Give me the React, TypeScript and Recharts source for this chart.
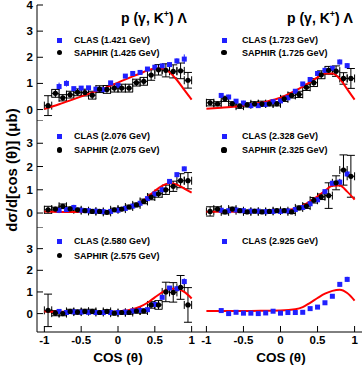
import { ComposedChart, ErrorBar, Line, Scatter, XAxis, YAxis } from 'recharts';

const FONT = '"Liberation Sans", Arial, Helvetica, sans-serif';
const BLUE = '#2020ff';
const RED = '#ff0000';

// bin centres
const clasCos = [-0.8, -0.7, -0.6, -0.5, -0.4, -0.3, -0.2, -0.1, 0, 0.1, 0.2, 0.3, 0.4, 0.5, 0.6, 0.7, 0.8, 0.9];
const saphirCos = [-0.95, -0.85, -0.75, -0.65, -0.55, -0.45, -0.35, -0.25, -0.15, -0.05, 0.05, 0.15, 0.25, 0.35, 0.45, 0.55, 0.65, 0.75, 0.85, 0.95];
const curveCos = [-1, -0.8, -0.6, -0.4, -0.2, 0, 0.2, 0.3, 0.4, 0.5, 0.6, 0.7, 0.8, 0.9, 1];

// 1.421 / 1.425 GeV
const clas1421 = [0.88, 1.0, 0.8, 0.82, 0.83, 0.78, 0.76, 1.02, 0.93, 1.28, 1.38, 1.42, 1.55, 1.62, 1.67, 1.72, 1.86, 1.93];
const clas1421Err = [0.15, 0.12, 0.07, 0.06, 0.06, 0.06, 0.06, 0.06, 0.06, 0.06, 0.06, 0.06, 0.07, 0.07, 0.08, 0.08, 0.1, 0.18];
const saphir1425 = [0.15, 0.62, 0.45, 0.57, 0.66, 0.65, 0.55, 0.78, 0.77, 0.82, 0.82, 0.82, 1.03, 1.08, 1.32, 1.52, 1.5, 1.46, 1.48, 1.12];
const saphir1425Err = [0.38, 0.15, 0.12, 0.13, 0.13, 0.13, 0.15, 0.13, 0.15, 0.15, 0.15, 0.15, 0.13, 0.15, 0.2, 0.2, 0.25, 0.25, 0.3, 0.3];
const model1421 = [0.02, 0.2, 0.4, 0.6, 0.8, 1.03, 1.27, 1.38, 1.5, 1.57, 1.57, 1.43, 1.13, 0.75, 0.38];

// 1.723 / 1.725 GeV
const clas1723 = [0.54, 0.48, 0.32, 0.25, 0.15, 0.15, 0.2, 0.3, 0.33, 0.45, 0.7, 0.98, 1.15, 1.38, 1.5, 1.58, 1.82, 1.68];
const clas1723Err = [0.06, 0.05, 0.05, 0.05, 0.04, 0.04, 0.04, 0.04, 0.04, 0.05, 0.05, 0.05, 0.06, 0.06, 0.07, 0.08, 0.1, 0.1];
const saphir1725 = [0.26, 0.22, 0.41, 0.22, 0.13, 0.18, 0.22, 0.22, 0.22, 0.22, 0.41, 0.54, 0.58, 0.85, 1.03, 1.33, 1.5, 1.47, 1.19, 1.19];
const saphir1725Err = [0.12, 0.08, 0.1, 0.08, 0.08, 0.08, 0.08, 0.1, 0.08, 0.08, 0.1, 0.1, 0.12, 0.12, 0.15, 0.15, 0.15, 0.2, 0.22, 0.38];
const model1723 = [0.03, 0.07, 0.12, 0.2, 0.3, 0.45, 0.72, 0.88, 1.05, 1.23, 1.38, 1.38, 1.18, 0.78, 0.38];

// 2.076 / 2.075 GeV
const clas2076 = [0.12, 0.15, 0.24, 0.12, 0.1, 0.08, 0.06, 0.07, 0.12, 0.2, 0.3, 0.42, 0.62, 0.82, 1.0, 1.36, 1.65, 1.9];
const clas2076Err = [0.04, 0.04, 0.04, 0.04, 0.03, 0.03, 0.03, 0.03, 0.03, 0.03, 0.04, 0.04, 0.05, 0.05, 0.06, 0.07, 0.1, 0.1];
const saphir2075 = [0.14, 0.17, 0.29, 0.18, 0.14, 0.1, 0.07, 0.07, 0.03, 0.14, 0.17, 0.26, 0.35, 0.5, 0.69, 0.83, 1.0, 1.15, 1.39, 1.39];
const saphir2075Err = [0.15, 0.08, 0.1, 0.08, 0.07, 0.07, 0.07, 0.07, 0.07, 0.07, 0.07, 0.08, 0.08, 0.1, 0.12, 0.15, 0.2, 0.22, 0.3, 0.35];
const model2076 = [0.07, 0.05, 0.04, 0.04, 0.06, 0.13, 0.3, 0.46, 0.68, 0.95, 1.17, 1.28, 1.22, 1.05, 0.88];

// 2.328 / 2.325 GeV
const clas2328 = [0.12, 0.1, 0.13, 0.1, 0.08, 0.08, 0.06, 0.07, 0.07, 0.09, 0.15, 0.24, 0.4, 0.57, 0.92, 1.28, 1.33, 1.68];
const clas2328Err = [0.04, 0.04, 0.04, 0.03, 0.03, 0.03, 0.03, 0.03, 0.03, 0.03, 0.04, 0.04, 0.05, 0.05, 0.06, 0.08, 0.1, 0.12];
const saphir2325 = [0.07, 0.17, 0.05, 0.17, 0.1, 0.05, 0.08, 0.05, 0.07, 0.1, 0.1, 0.05, 0.22, 0.3, 0.55, 0.7, 0.75, 1.3, 1.85, 1.58];
const saphir2325Err = [0.2, 0.1, 0.08, 0.08, 0.07, 0.07, 0.07, 0.07, 0.07, 0.07, 0.07, 0.07, 0.08, 0.1, 0.12, 0.12, 0.55, 0.3, 0.65, 0.9];
const model2328 = [0.06, 0.06, 0.06, 0.06, 0.07, 0.1, 0.2, 0.32, 0.5, 0.72, 0.96, 1.17, 1.18, 0.92, 0.58];

// 2.580 / 2.575 GeV
const clas2580 = [0.1, 0.05, 0.08, 0.07, 0.06, 0.05, 0.05, 0.05, 0.05, 0.07, 0.12, 0.15, 0.18, 0.42, 0.75, 1.18, 1.15, 1.48];
const clas2580Err = [0.04, 0.04, 0.03, 0.03, 0.03, 0.03, 0.03, 0.03, 0.03, 0.03, 0.03, 0.04, 0.04, 0.05, 0.06, 0.08, 0.1, 0.15];
const saphir2575 = [0.15, 0.02, 0.0, 0.1, 0.07, 0.1, 0.1, 0.05, 0.1, 0.02, 0.05, 0.05, 0.12, 0.12, 0.4, 0.4, 1.0, 0.98, 1.21, 0.4];
const saphir2575Err = [0.75, 0.12, 0.1, 0.1, 0.1, 0.1, 0.1, 0.08, 0.08, 0.08, 0.08, 0.08, 0.1, 0.1, 0.15, 0.2, 0.45, 0.45, 0.55, 0.8];
const model2580 = [0.1, 0.08, 0.08, 0.07, 0.07, 0.1, 0.2, 0.32, 0.5, 0.75, 0.98, 1.15, 1.15, 1.0, 0.7];

// 2.925 GeV
const clas2925 = [0.14, 0.0, 0.06, 0.02, 0.02, 0.0, 0.03, 0.11, 0.02, 0.05, 0.05, 0.06, 0.23, 0.3, 0.5, 0.8, 1.35, 1.58];
const clas2925Err = [0.04, 0.03, 0.03, 0.03, 0.03, 0.03, 0.03, 0.03, 0.03, 0.03, 0.03, 0.03, 0.04, 0.04, 0.05, 0.06, 0.1, 0.12];
const model2925 = [0.12, 0.12, 0.12, 0.12, 0.13, 0.14, 0.2, 0.3, 0.5, 0.72, 0.92, 1.05, 1.1, 0.95, 0.6];

const xMajorTicks = [-1, -0.5, 0, 0.5, 1];
const xMinorTicks = [-0.9, -0.8, -0.7, -0.6, -0.4, -0.3, -0.2, -0.1, 0.1, 0.2, 0.3, 0.4, 0.6, 0.7, 0.8, 0.9];
const yMajorTicks = [0, 1, 2, 3, 4];
const yMinorTicks = [-0.5, 0.5, 1.5, 2.5, 3.5];

// plot frames (page pixels)
const rowTops = [5, 120, 227];
const rowHeights = [115, 107, 105];
const rowDomains = [[-0.4, 4], [-0.6, 4], [-0.85, 4]];
const rowYLabelMax = [4, 3, 3];
const legendOffsets = [
    [35, 47.5],
    [16, 30],
    [14, 28.5],
];

const pts = (cos: number[], ys: number[], errs: number[], ex: number) =>
    cos.map((x, i) => ({ x, y: ys[i], ey: errs[i], ex }));

const curve = (ys: number[]) => curveCos.map((x, i) => ({ x, y: ys[i] }));

const panels = [
    { row: 0, col: 0, clasLabel: 'CLAS (1.421 GeV)', saphirLabel: 'SAPHIR (1.425 GeV)', clas: pts(clasCos, clas1421, clas1421Err, 0), saphir: pts(saphirCos, saphir1425, saphir1425Err, 0.05), model: curve(model1421) },
    { row: 0, col: 1, clasLabel: 'CLAS (1.723 GeV)', saphirLabel: 'SAPHIR (1.725 GeV)', clas: pts(clasCos, clas1723, clas1723Err, 0), saphir: pts(saphirCos, saphir1725, saphir1725Err, 0.05), model: curve(model1723) },
    { row: 1, col: 0, clasLabel: 'CLAS (2.076 GeV)', saphirLabel: 'SAPHIR (2.075 GeV)', clas: pts(clasCos, clas2076, clas2076Err, 0), saphir: pts(saphirCos, saphir2075, saphir2075Err, 0.05), model: curve(model2076) },
    { row: 1, col: 1, clasLabel: 'CLAS (2.328 GeV)', saphirLabel: 'SAPHIR (2.325 GeV)', clas: pts(clasCos, clas2328, clas2328Err, 0), saphir: pts(saphirCos, saphir2325, saphir2325Err, 0.05), model: curve(model2328) },
    { row: 2, col: 0, clasLabel: 'CLAS (2.580 GeV)', saphirLabel: 'SAPHIR (2.575 GeV)', clas: pts(clasCos, clas2580, clas2580Err, 0), saphir: pts(saphirCos, saphir2575, saphir2575Err, 0.05), model: curve(model2580) },
    { row: 2, col: 1, clasLabel: 'CLAS (2.925 GeV)', saphirLabel: null, clas: pts(clasCos, clas2925, clas2925Err, 0), saphir: null, model: curve(model2925) },
];

const tickText = { fill: '#000', fontSize: 11.5, fontWeight: 'bold', fontFamily: FONT };
const axisLine = { stroke: '#000', strokeWidth: 1 };
const tickLine = { stroke: '#000', strokeWidth: 1 };
const blank = () => '';

const Square = ({ cx, cy }: any) => <rect x={cx - 2.5} y={cy - 2.5} width={5} height={5} fill={BLUE} />;
const Dot = ({ cx, cy }: any) => <circle cx={cx} cy={cy} r={2.6} fill='#000' />;

const Panel = ({ p }: { p: (typeof panels)[number] }) => {
    const left = p.col === 0;
    const bottom = p.row === 2;
    const top = p.row === 0;
    const padTop = top ? 5 : 0;
    const bottomH = bottom ? 35 : 0;
    const yW = left ? 37 : 0;
    const domain = rowDomains[p.row];
    const labelMax = rowYLabelMax[p.row];
    const common = { type: 'number' as const, allowDataOverflow: true, interval: 0, minTickGap: 0, axisLine, tickLine };
    return (
        <div style={{ position: 'absolute', left: left ? 0 : 199, top: rowTops[p.row] - padTop }}>
            <ComposedChart
                width={left ? 199 : 163}
                height={rowHeights[p.row] + padTop + bottomH}
                margin={{ top: padTop, right: 0, bottom: 0, left: 0 }}
            >
                {/* inward minor ticks first so they sit on the frame */}
                <XAxis {...common} xAxisId='bm' domain={[-1.1, 1.1]} ticks={xMinorTicks} height={0} tickSize={-3} tickFormatter={blank} />
                <XAxis
                    {...common}
                    dataKey='x'
                    domain={[-1.1, 1.1]}
                    ticks={xMajorTicks}
                    height={bottomH}
                    tickSize={-6}
                    tickMargin={bottom ? 10 : 0}
                    tick={tickText}
                    tickFormatter={bottom ? (v: number) => String(v) : blank}
                />
                <XAxis {...common} xAxisId='tm' orientation='top' domain={[-1.1, 1.1]} ticks={xMinorTicks} height={0} tickSize={-3} tickFormatter={blank} />
                <XAxis {...common} xAxisId='tM' orientation='top' domain={[-1.1, 1.1]} ticks={xMajorTicks} height={0} tickSize={-6} tickFormatter={blank} />
                <YAxis {...common} yAxisId='lm' domain={domain} ticks={yMinorTicks} width={0} tickSize={-3} tickFormatter={blank} />
                <YAxis
                    {...common}
                    dataKey='y'
                    domain={domain}
                    ticks={yMajorTicks}
                    width={yW}
                    tickSize={-6}
                    tickMargin={10}
                    tick={tickText}
                    tickFormatter={(v: number) => (left && v <= labelMax ? String(v) : '')}
                />
                <YAxis {...common} yAxisId='rm' orientation='right' domain={domain} ticks={yMinorTicks} width={0} tickSize={-3} tickFormatter={blank} />
                <YAxis {...common} yAxisId='rM' orientation='right' domain={domain} ticks={yMajorTicks} width={0} tickSize={-6} tickFormatter={blank} />
                <Scatter data={p.clas} shape={Square} isAnimationActive={false}>
                    <ErrorBar dataKey='ey' direction='y' width={0} stroke={BLUE} strokeWidth={1} />
                </Scatter>
                {p.saphir ? (
                    <Scatter data={p.saphir} shape={Dot} isAnimationActive={false}>
                        <ErrorBar dataKey='ey' direction='y' width={4} stroke='#000' strokeWidth={1} />
                        <ErrorBar dataKey='ex' direction='x' width={4} stroke='#000' strokeWidth={1} />
                    </Scatter>
                ) : null}
                <Line
                    data={p.model}
                    dataKey='y'
                    type='monotone'
                    stroke={RED}
                    strokeWidth={2}
                    dot={false}
                    activeDot={false}
                    isAnimationActive={false}
                />
            </ComposedChart>
        </div>
    );
};

const textStyle = { position: 'absolute', fontFamily: FONT, fontWeight: 'bold', whiteSpace: 'nowrap', color: '#000' } as const;

const Legend = ({ p }: { p: (typeof panels)[number] }) => {
    const markerX = p.col === 0 ? 59.5 : 224;
    const textX = p.col === 0 ? 74 : 242;
    const [c, s] = legendOffsets[p.row];
    const top = rowTops[p.row];
    return (
        <>
            <div style={{ position: 'absolute', left: markerX - 2.5, top: top + c - 2.5, width: 5, height: 5, background: BLUE }} />
            <div style={{ ...textStyle, left: textX, top: top + c - 6, fontSize: 9, lineHeight: '12px' }}>{p.clasLabel}</div>
            {p.saphirLabel ? (
                <>
                    <div style={{ position: 'absolute', left: markerX - 2.6, top: top + s - 2.6, width: 5.2, height: 5.2, borderRadius: '50%', background: '#000' }} />
                    <div style={{ ...textStyle, left: textX, top: top + s - 6, fontSize: 9, lineHeight: '12px' }}>{p.saphirLabel}</div>
                </>
            ) : null}
        </>
    );
};

const Reaction = ({ x }: { x: number }) => (
    <div style={{ ...textStyle, left: x, top: 10, fontSize: 14, lineHeight: '16px' }}>
        p (γ, K<sup style={{ fontSize: 9, verticalAlign: 'top', lineHeight: '9px' }}>+</sup>) Λ
    </div>
);

export default function App() {
    return (
        <div style={{ position: 'absolute', left: 0, top: 0, width: 363, height: 366, background: '#fff' }}>
            {panels.map((p, i) => (
                <Panel key={i} p={p} />
            ))}
            {panels.map((p, i) => (
                <Legend key={i} p={p} />
            ))}
            <Reaction x={121} />
            <Reaction x={287} />
            <div
                style={{
                    ...textStyle,
                    left: 12,
                    top: 170,
                    fontSize: 15,
                    lineHeight: '18px',
                    transform: 'translate(-50%, -50%) rotate(-90deg)',
                }}
            >
                dσ/d[cos (θ)] (μb)
            </div>
            <div style={{ ...textStyle, left: 118, top: 358, fontSize: 13.5, lineHeight: '16px', transform: 'translate(-50%, -50%)' }}>COS (θ)</div>
            <div style={{ ...textStyle, left: 281, top: 358, fontSize: 13.5, lineHeight: '16px', transform: 'translate(-50%, -50%)' }}>COS (θ)</div>
        </div>
    );
}
